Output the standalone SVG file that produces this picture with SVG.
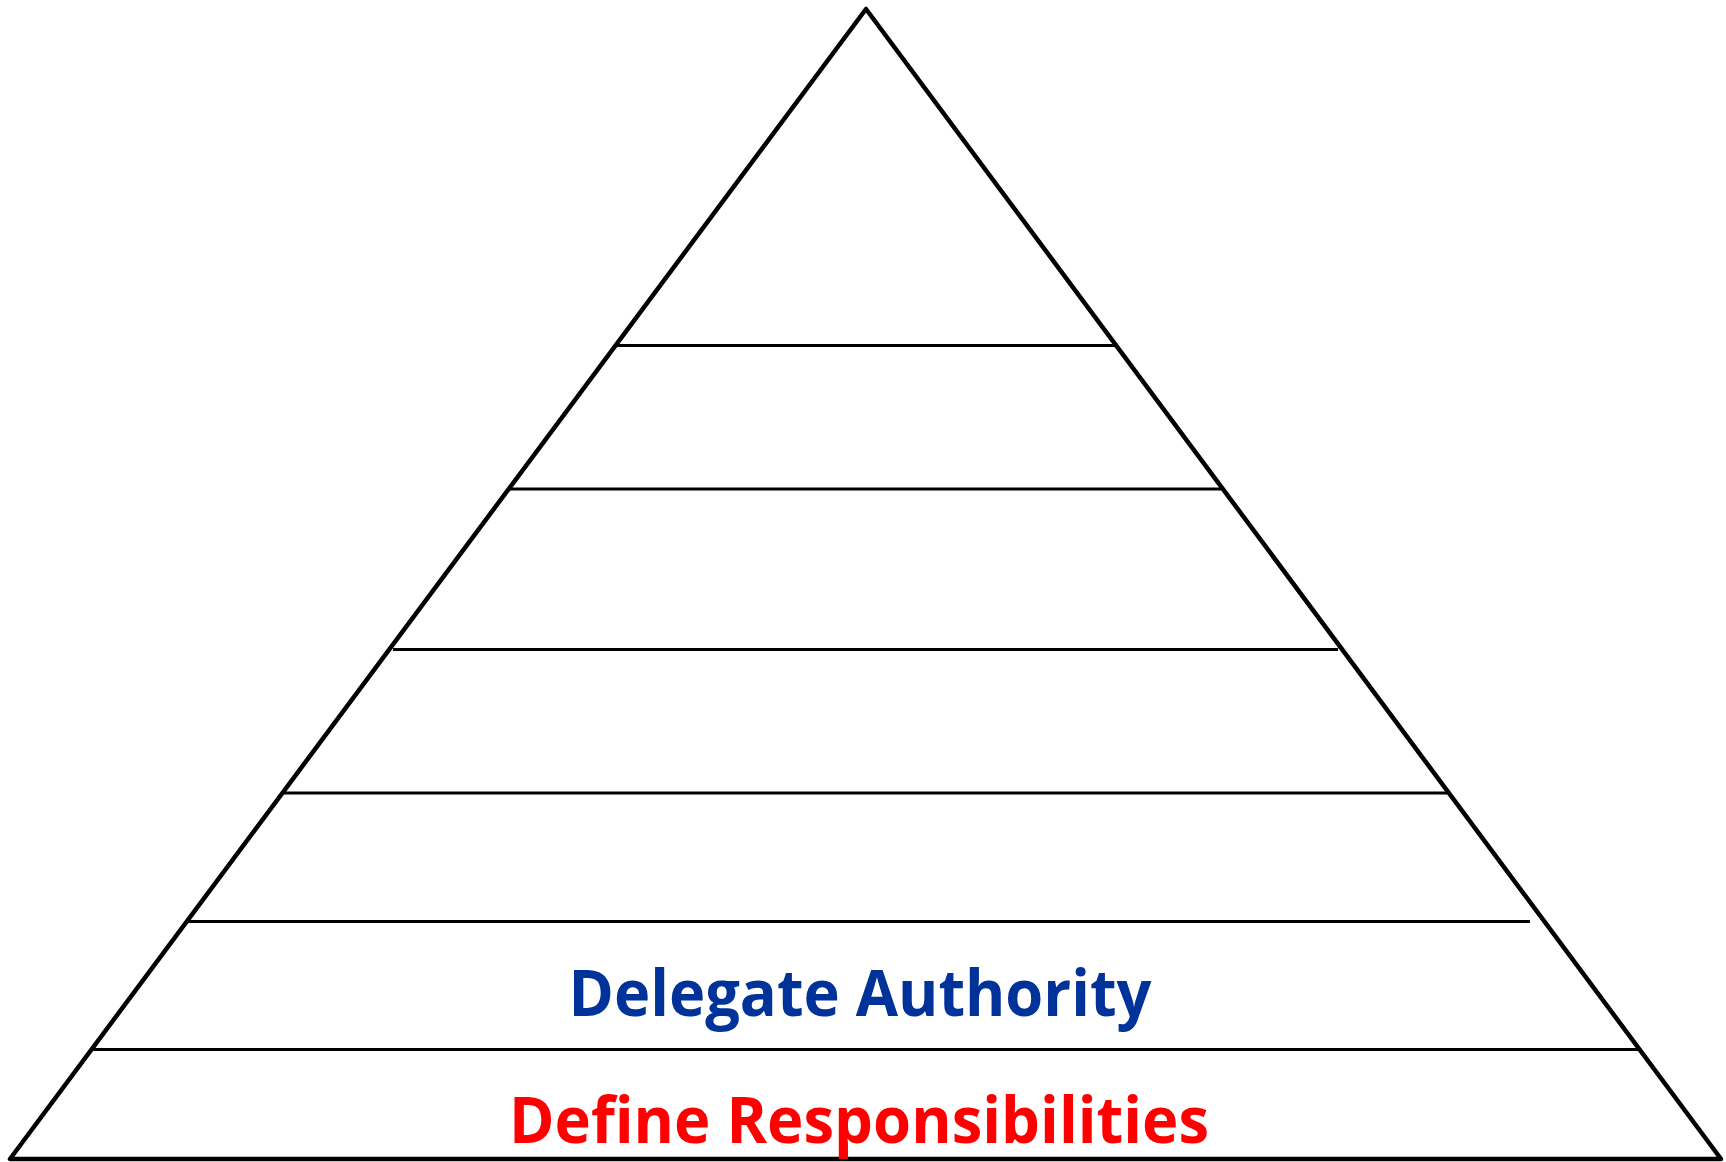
<svg xmlns="http://www.w3.org/2000/svg" width="1726" height="1162" viewBox="0 0 1726 1162">
<style>
.tri{fill:#fff;stroke:#000;stroke-width:4.5;stroke-linejoin:round}
.div{stroke:#000;stroke-width:3}
.lbl{font-family:"Open Sans","Liberation Sans",Arial,sans-serif;font-weight:bold;font-size:64px}
</style>
<rect width="1726" height="1162" fill="#fff"/>
<g id="pyramid">
<polygon class="tri" points="866,9 10,1159 1721,1159"/>
</g>
<g id="dividers">
<line class="div" x1="616" y1="345.5" x2="1115" y2="345.5"/>
<line class="div" x1="509" y1="489" x2="1221" y2="489"/>
<line class="div" x1="393" y1="649.5" x2="1338" y2="649.5"/>
<line class="div" x1="283" y1="793" x2="1448" y2="793"/>
<line class="div" x1="188" y1="921.5" x2="1530" y2="921.5"/>
<line class="div" x1="93" y1="1049.5" x2="1638" y2="1049.5"/>
</g>
<g id="level-delegate">
<text class="lbl" x="568.5" y="1015.5" fill="#003399" textLength="583" lengthAdjust="spacingAndGlyphs">Delegate Authority</text>
</g>
<g id="level-define">
<text class="lbl" x="509" y="1143" fill="#FF0000" textLength="700" lengthAdjust="spacingAndGlyphs">Define Responsibilities</text>
</g>
</svg>
